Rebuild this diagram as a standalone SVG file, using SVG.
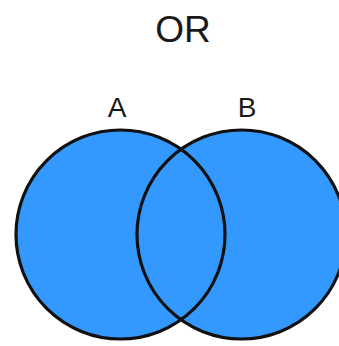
<svg xmlns="http://www.w3.org/2000/svg" width="339" height="346" viewBox="0 0 339 346">
<style>
.set{fill:#3399ff;stroke:none}
.ring{fill:none;stroke:#111;stroke-width:3.2}
.lbl{font-family:"Liberation Sans",Arial,sans-serif;fill:#1a1a1a;text-anchor:middle}
</style>
<rect width="339" height="346" fill="#fff"/>
<text class="lbl" x="183" y="42" font-size="37">OR</text>
<g id="setA">
<circle class="set" cx="120.5" cy="234.5" r="104.5"/>
<text class="lbl" x="117" y="117" font-size="28">A</text>
</g>
<g id="setB">
<circle class="set" cx="241.5" cy="234.5" r="104.5"/>
<text class="lbl" x="247" y="117" font-size="28">B</text>
</g>
<g id="outlines">
<circle class="ring" cx="120.5" cy="234.5" r="104.5"/>
<circle class="ring" cx="241.5" cy="234.5" r="104.5"/>
</g>
</svg>
